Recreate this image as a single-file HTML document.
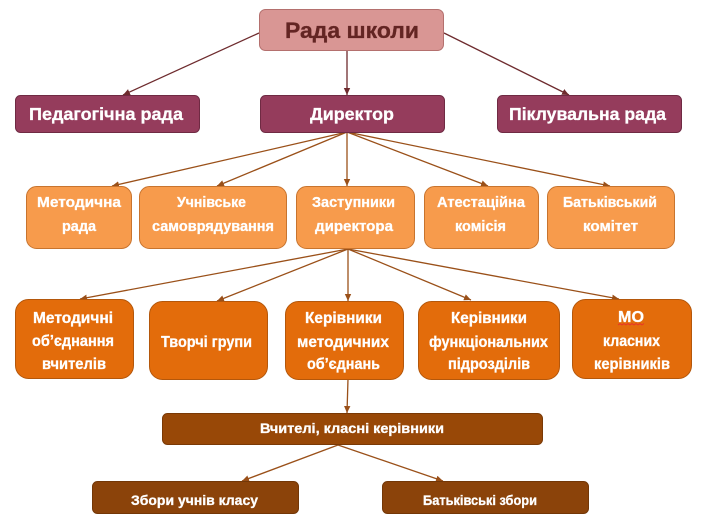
<!DOCTYPE html>
<html>
<head>
<meta charset="utf-8">
<style>
  html,body{margin:0;padding:0;background:#fff;}
  svg{display:block;}
  text{font-family:"Liberation Sans","DejaVu Sans",sans-serif;font-weight:bold;}
</style>
</head>
<body>
<svg width="705" height="524" viewBox="0 0 705 524" xmlns="http://www.w3.org/2000/svg">
  <defs>
    <marker id="am" markerWidth="8" markerHeight="8" refX="7" refY="4" orient="auto" markerUnits="userSpaceOnUse">
      <path d="M0,0.8 L7,4 L0,7.2 Z" fill="#6e2b2e"/>
    </marker>
    <marker id="ab" markerWidth="8" markerHeight="8" refX="7" refY="4" orient="auto" markerUnits="userSpaceOnUse">
      <path d="M0,0.8 L7,4 L0,7.2 Z" fill="#9a5019"/>
    </marker>
  </defs>
  <rect width="705" height="524" fill="#fff"/>

  <!-- connectors top -->
  <g stroke="#6e2b2e" stroke-width="1.3" fill="none">
    <line x1="259" y1="33" x2="123" y2="95" marker-end="url(#am)"/>
    <line x1="347" y1="51" x2="347" y2="95" marker-end="url(#am)"/>
    <line x1="444" y1="33" x2="569" y2="95" marker-end="url(#am)"/>
  </g>
  <!-- connectors brown -->
  <g stroke="#9a5019" stroke-width="1.3" fill="none">
    <line x1="347" y1="132" x2="112" y2="186" marker-end="url(#ab)"/>
    <line x1="347" y1="132" x2="217" y2="186" marker-end="url(#ab)"/>
    <line x1="347" y1="132" x2="347" y2="186" marker-end="url(#ab)"/>
    <line x1="347" y1="132" x2="488" y2="186" marker-end="url(#ab)"/>
    <line x1="347" y1="132" x2="610" y2="186" marker-end="url(#ab)"/>

    <line x1="348" y1="249" x2="80" y2="299" marker-end="url(#ab)"/>
    <line x1="348" y1="249" x2="217" y2="301" marker-end="url(#ab)"/>
    <line x1="348" y1="249" x2="348" y2="301" marker-end="url(#ab)"/>
    <line x1="348" y1="249" x2="471" y2="300" marker-end="url(#ab)"/>
    <line x1="348" y1="249" x2="619" y2="299" marker-end="url(#ab)"/>

    <line x1="348" y1="379" x2="347" y2="413" marker-end="url(#ab)"/>

    <line x1="338" y1="445" x2="242" y2="481" marker-end="url(#ab)"/>
    <line x1="338" y1="445" x2="443" y2="481" marker-end="url(#ab)"/>
  </g>

  <!-- Рада школи -->
  <rect x="259.5" y="9.5" width="184" height="41" rx="6" fill="#d99694" stroke="#b4706e" stroke-width="1"/>
  <text x="352" y="38" font-size="22" fill="#632523" stroke="#632523" stroke-width="0.3" text-anchor="middle" textLength="134" lengthAdjust="spacingAndGlyphs">Рада школи</text>

  <!-- Row 2 -->
  <g fill="#953c5c" stroke="#6f2a43" stroke-width="1">
    <rect x="15.5" y="95.5" width="184" height="37" rx="5"/>
    <rect x="260.5" y="95.5" width="184" height="37" rx="5"/>
    <rect x="497.5" y="95.5" width="184" height="37" rx="5"/>
  </g>
  <g fill="#fff" stroke="#fff" stroke-width="0.3" font-size="17.5" text-anchor="middle">
    <text x="106" y="120" textLength="154" lengthAdjust="spacingAndGlyphs">Педагогічна рада</text>
    <text x="352" y="120" textLength="84" lengthAdjust="spacingAndGlyphs">Директор</text>
    <text x="587.5" y="120" textLength="157" lengthAdjust="spacingAndGlyphs">Піклувальна рада</text>
  </g>

  <!-- Row 3 -->
  <g fill="#f79b4c" stroke="#c8742e" stroke-width="1">
    <rect x="26.5" y="186.5" width="105" height="62" rx="10"/>
    <rect x="139.5" y="186.5" width="147" height="62" rx="10"/>
    <rect x="296.5" y="186.5" width="118" height="62" rx="10"/>
    <rect x="424.5" y="186.5" width="114" height="62" rx="10"/>
    <rect x="547.5" y="186.5" width="127" height="62" rx="10"/>
  </g>
  <g fill="#fff" stroke="#fff" stroke-width="0.3" font-size="14.5" text-anchor="middle">
    <text x="79" y="207" textLength="84" lengthAdjust="spacingAndGlyphs">Методична</text>
    <text x="79" y="231" textLength="34" lengthAdjust="spacingAndGlyphs">рада</text>
    <text x="211.5" y="207" textLength="69" lengthAdjust="spacingAndGlyphs">Учнівське</text>
    <text x="213" y="231" textLength="122" lengthAdjust="spacingAndGlyphs">самоврядування</text>
    <text x="353.5" y="207" textLength="83" lengthAdjust="spacingAndGlyphs">Заступники</text>
    <text x="354" y="231" textLength="78" lengthAdjust="spacingAndGlyphs">директора</text>
    <text x="481" y="207" textLength="88" lengthAdjust="spacingAndGlyphs">Атестаційна</text>
    <text x="480.5" y="231" textLength="51" lengthAdjust="spacingAndGlyphs">комісія</text>
    <text x="610" y="207" textLength="94" lengthAdjust="spacingAndGlyphs">Батьківський</text>
    <text x="610.5" y="231" textLength="55" lengthAdjust="spacingAndGlyphs">комітет</text>
  </g>

  <!-- Row 4 -->
  <g fill="#e36c0b" stroke="#b4570b" stroke-width="1">
    <rect x="15.5" y="299.5" width="118" height="79" rx="13"/>
    <rect x="149.5" y="301.5" width="118" height="78" rx="13"/>
    <rect x="285.5" y="301.5" width="118" height="78" rx="13"/>
    <rect x="418.5" y="301.5" width="141" height="78" rx="13"/>
    <rect x="572.5" y="299.5" width="119" height="79" rx="13"/>
  </g>
  <g fill="#fff" stroke="#fff" stroke-width="0.3" font-size="15.5" text-anchor="middle">
    <text x="73" y="323" textLength="80" lengthAdjust="spacingAndGlyphs">Методичні</text>
    <text x="73" y="346" textLength="82" lengthAdjust="spacingAndGlyphs">об’єднання</text>
    <text x="74" y="369" textLength="64" lengthAdjust="spacingAndGlyphs">вчителів</text>
    <text x="206.5" y="347" textLength="91" lengthAdjust="spacingAndGlyphs">Творчі групи</text>
    <text x="343.5" y="323" textLength="77" lengthAdjust="spacingAndGlyphs">Керівники</text>
    <text x="343" y="347" textLength="92" lengthAdjust="spacingAndGlyphs">методичних</text>
    <text x="343.5" y="369" textLength="73" lengthAdjust="spacingAndGlyphs">об’єднань</text>
    <text x="489" y="323" textLength="76" lengthAdjust="spacingAndGlyphs">Керівники</text>
    <text x="488.5" y="347" textLength="119" lengthAdjust="spacingAndGlyphs">функціональних</text>
    <text x="489" y="369" textLength="82" lengthAdjust="spacingAndGlyphs">підрозділів</text>
    <text x="631" y="322" textLength="26" lengthAdjust="spacingAndGlyphs">МО</text>
    <text x="631.5" y="346" textLength="57" lengthAdjust="spacingAndGlyphs">класних</text>
    <text x="632" y="369" textLength="76" lengthAdjust="spacingAndGlyphs">керівників</text>
  </g>
  <path d="M618,325 l2,-1.5 l2,1.5 l2,-1.5 l2,1.5 l2,-1.5 l2,1.5 l2,-1.5 l2,1.5 l2,-1.5 l2,1.5 l2,-1.5 l2,1.5 l2,-1.5" stroke="#e8312a" stroke-width="0.8" fill="none"/>

  <!-- Row 5 -->
  <rect x="162.5" y="413.5" width="380" height="31" rx="5" fill="#984807" stroke="#7a3905" stroke-width="1"/>
  <text x="352" y="433" font-size="14" fill="#fff" stroke="#fff" stroke-width="0.3" text-anchor="middle" textLength="184" lengthAdjust="spacingAndGlyphs">Вчителі, класні керівники</text>

  <!-- Row 6 -->
  <g fill="#8b430a" stroke="#733707" stroke-width="1">
    <rect x="92.5" y="481.5" width="206" height="32" rx="5"/>
    <rect x="382.5" y="481.5" width="206" height="32" rx="5"/>
  </g>
  <g fill="#fff" stroke="#fff" stroke-width="0.3" font-size="14" text-anchor="middle">
    <text x="194.5" y="505" textLength="127" lengthAdjust="spacingAndGlyphs">Збори учнів класу</text>
    <text x="480" y="505" textLength="114" lengthAdjust="spacingAndGlyphs">Батьківські збори</text>
  </g>
</svg>
</body>
</html>
